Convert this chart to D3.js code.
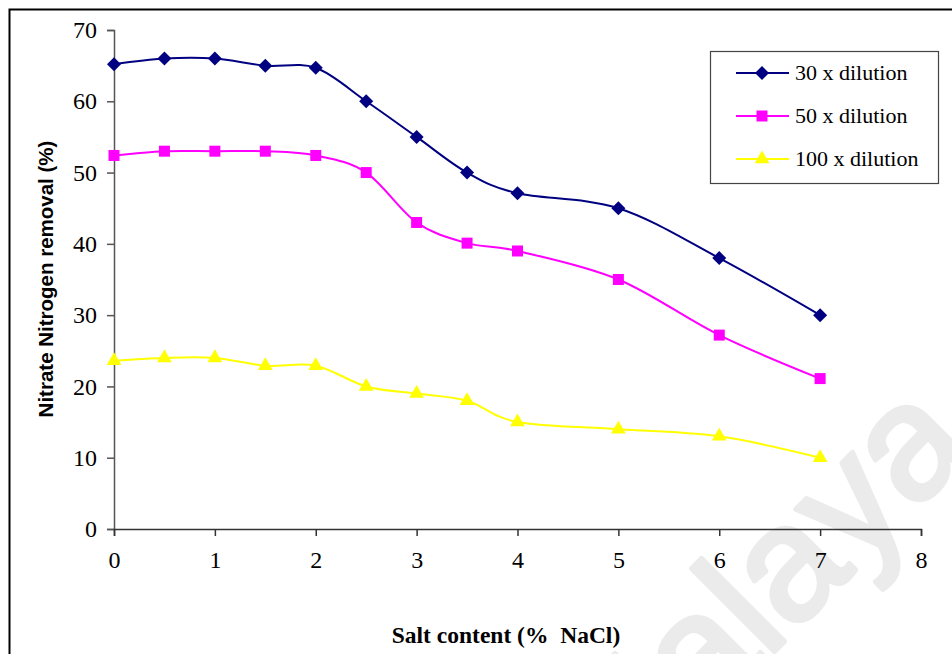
<!DOCTYPE html>
<html>
<head>
<meta charset="utf-8">
<script src="https://cdn.jsdelivr.net/npm/d3@7"></script>
<style>
  body { margin: 0; background: #fff; }
  svg { display: block; }
</style>
</head>
<body>
<div id="chart"></div>
<script>
// salt content (% NaCl)
const salt = [0, 0.5, 1, 1.5, 2, 2.5, 3, 3.5, 4, 5, 6, 7];
const dil30 = [65.2, 66, 66, 65, 64.7, 60, 55, 50, 47.1, 45, 38, 30];
const dil50 = [52.4, 53, 53, 53, 52.4, 50, 43, 40.1, 39, 35, 27.2, 21.1];
const dil100 = [23.6, 24, 24, 22.9, 22.9, 20, 19, 18, 15, 14, 13, 10];
const seriesNames = ["30 x dilution", "50 x dilution", "100 x dilution"];
const xTicks = [0, 1, 2, 3, 4, 5, 6, 7, 8];
const yTicks = [0, 10, 20, 30, 40, 50, 60, 70];

const W = 952, H = 654;
const serif = "'Liberation Serif', 'Times New Roman', Times, serif";
const sans = "'Liberation Sans', Arial, Helvetica, sans-serif";

const svg = d3.select("#chart").append("svg").attr("width", W).attr("height", H);

// watermark
svg.append("text")
  .attr("transform", "translate(977,449) rotate(-45)")
  .attr("text-anchor", "end")
  .attr("font-family", sans)
  .attr("font-size", 162)
  .attr("fill", "#ebebeb")
  .attr("stroke", "#ebebeb")
  .attr("stroke-width", 5)
  .attr("stroke-linejoin", "round")
  .text("Malaya");

// outer frame
svg.append("rect")
  .attr("x", 9.5).attr("y", 9.5).attr("width", 1000).attr("height", 1000)
  .attr("fill", "none").attr("stroke", "#000").attr("stroke-width", 2);

const x = d3.scaleLinear().domain([0, 8]).range([114, 921]);
const y = d3.scaleLinear().domain([0, 70]).range([529, 30]);

// y axis
const gy = svg.append("g").attr("transform", "translate(114,0)")
  .call(d3.axisLeft(y).tickValues(yTicks).tickSize(7).tickPadding(10));
gy.attr("font-family", serif).attr("font-size", 24);
gy.select(".domain").attr("stroke", "#555").attr("stroke-width", 1.5);
gy.selectAll(".tick line").attr("stroke", "#555").attr("stroke-width", 1.5);
gy.selectAll("text").attr("fill", "#000");

// x axis
const gx = svg.append("g").attr("transform", "translate(0,529)")
  .call(d3.axisBottom(x).tickValues(xTicks).tickSize(7).tickPadding(15));
gx.attr("font-family", serif).attr("font-size", 24);
gx.select(".domain").attr("stroke", "#333").attr("stroke-width", 1.5);
gx.selectAll(".tick line").attr("stroke", "#333").attr("stroke-width", 1.5);
gx.selectAll("text").attr("fill", "#000");

// titles
svg.append("text")
  .attr("transform", "translate(53,279) rotate(-90)")
  .attr("text-anchor", "middle")
  .attr("font-family", sans)
  .attr("font-weight", "bold")
  .attr("font-size", 20.5)
  .text("Nitrate Nitrogen removal (%)");

svg.append("text")
  .attr("x", 506).attr("y", 643)
  .attr("text-anchor", "middle")
  .attr("font-family", serif)
  .attr("font-weight", "bold")
  .attr("font-size", 23.5)
  .attr("xml:space", "preserve")
  .style("white-space", "pre")
  .text("Salt content (%  NaCl)");

const series = [
  { name: seriesNames[0], values: dil30, color: "#000080", path: d3.symbol().type(d3.symbolSquare).size(98)(), rot: 45 },
  { name: seriesNames[1], values: dil50, color: "#ff00ff", path: d3.symbol().type(d3.symbolSquare).size(121)(), rot: 0 },
  { name: seriesNames[2], values: dil100, color: "#ffff00", path: d3.symbol().type(d3.symbolTriangle).size(95)(), rot: 0 }
];

const line = d3.line()
  .x(d => x(d[0]))
  .y(d => y(d[1]))
  .curve(d3.curveCatmullRom.alpha(0));

series.forEach(s => {
  const pts = salt.map((v, i) => [v, s.values[i]]);
  svg.append("path")
    .datum(pts)
    .attr("d", line)
    .attr("fill", "none")
    .attr("stroke", s.color)
    .attr("stroke-width", 2);
  svg.append("g").selectAll("path")
    .data(pts)
    .enter().append("path")
    .attr("transform", d => `translate(${x(d[0])},${y(d[1])}) rotate(${s.rot})`)
    .attr("d", s.path)
    .attr("fill", s.color);
});

// legend
const lg = svg.append("g");
lg.append("rect")
  .attr("x", 710.5).attr("y", 51.5).attr("width", 228).attr("height", 132)
  .attr("fill", "#fff").attr("stroke", "#444").attr("stroke-width", 1.2);
series.forEach((s, i) => {
  const cy = 73 + i * 43;
  lg.append("line")
    .attr("x1", 736).attr("x2", 789).attr("y1", cy).attr("y2", cy)
    .attr("stroke", s.color).attr("stroke-width", 2);
  lg.append("path")
    .attr("transform", `translate(762,${cy}) rotate(${s.rot})`)
    .attr("d", s.path)
    .attr("fill", s.color);
  lg.append("text")
    .attr("x", 795).attr("y", cy + 7)
    .attr("font-family", serif)
    .attr("font-size", 22)
    .text(s.name);
});
</script>
</body>
</html>
